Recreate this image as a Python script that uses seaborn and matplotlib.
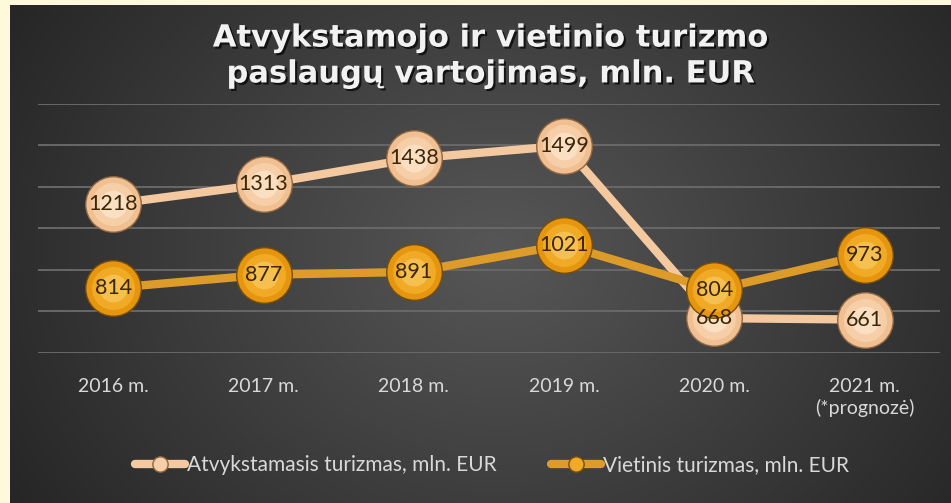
import numpy as np
import matplotlib
matplotlib.use("Agg")
import matplotlib.pyplot as plt
import matplotlib.patheffects as pe
from matplotlib.lines import Line2D
import seaborn as sns

years = ["2016 m.", "2017 m.", "2018 m.", "2019 m.", "2020 m.", "2021 m.\n(*prognozė)"]
atvykstamasis = [1218, 1313, 1438, 1499, 668, 661]
vietinis = [814, 877, 891, 1021, 804, 973]
series_names = ["Atvykstamasis turizmas, mln. EUR", "Vietinis turizmas, mln. EUR"]

sns.set_theme(style="dark")
plt.rcParams["font.family"] = ["Lato", "DejaVu Sans"]

W, H = 951, 503
fig = plt.figure(figsize=(W / 100, H / 100), dpi=100, facecolor="#FFF9DB")

# dark radial background panel
bg = fig.add_axes([10 / W, 0, 941 / W, 498 / H])
yy, xx = np.mgrid[0:1:300j, 0:1:600j]
r = np.sqrt(((xx - 0.52) / 0.7) ** 2 + ((yy - 0.5) / 1.1) ** 2)
shade = np.clip(0.34 - 0.22 * r, 0.14, 0.34)
bg.imshow(np.dstack([shade] * 3), aspect="auto", extent=[0, 1, 0, 1])
bg.set_axis_off()

ax = fig.add_axes([38 / W, 1 - 353 / H, 902 / W, 249 / H])
ax.set_facecolor("none")
x = np.arange(len(years))

light_line = "#F5C9A0"
orange_line = "#DD9B2A"

sns.lineplot(x=x, y=atvykstamasis, ax=ax, color=light_line, lw=6, zorder=3)
sns.lineplot(x=x, y=vietinis, ax=ax, color=orange_line, lw=6, zorder=5)

# spherical looking markers: stacked circles
light_layers = [("#8E6640", 41), ("#F0BF92", 39), ("#F6CFA8", 31), ("#FADFC2", 20)]
orange_layers = [("#7A4E06", 41), ("#E6960E", 39), ("#F0AA26", 31), ("#F6C050", 20)]
for vals, layers, z in [(atvykstamasis, light_layers, 4), (vietinis, orange_layers, 6)]:
    for col, ms in layers:
        ax.plot(x, vals, ls="none", marker="o", ms=ms, mfc=col, mec="none", zorder=z)
    # labels above every marker
    for xi, v in zip(x, vals):
        ax.text(xi, v, str(v), ha="center", va="center", fontsize=15.5,
                color="#3A2608", zorder=10)

ax.set_xlim(-0.5, 5.5)
ax.set_ylim(500, 1700)
ax.set_yticks(np.arange(500, 1701, 200))
ax.yaxis.grid(True, color="#686868", lw=1.4)
ax.xaxis.grid(False)
ax.set_yticklabels([])
ax.tick_params(axis="y", length=0)
ax.set_xticks(x)
ax.set_xticklabels(years, color="#D9D9D9", fontsize=14, linespacing=1.25)
ax.tick_params(axis="x", length=0, pad=18)
for s in ax.spines.values():
    s.set_visible(False)

fig.text(490 / W, 1 - 56 / H, "Atvykstamojo ir vietinio turizmo\npaslaugų vartojimas, mln. EUR",
         ha="center", va="center", fontsize=22, fontweight="bold", color="#F2F2F2",
         family=["DejaVu Sans"], linespacing=1.3,
         path_effects=[pe.withSimplePatchShadow(offset=(1.5, -1.5), shadow_rgbFace="black", alpha=0.7)])

handles = [
    Line2D([], [], color=light_line, lw=6, marker="o", ms=11, mfc="#F6CFA8", mec="#8E6640"),
    Line2D([], [], color=orange_line, lw=6, marker="o", ms=11, mfc="#F0AA26", mec="#7A4E06"),
]
leg = fig.legend(handles, series_names, loc="center", bbox_to_anchor=(492 / W, 1 - 465 / H),
                 ncol=2, frameon=False, fontsize=15, handlelength=2.4, handletextpad=0.1,
                 columnspacing=2.6, labelcolor="#D9D9D9")

fig.savefig("out.png", dpi=100, facecolor=fig.get_facecolor())
